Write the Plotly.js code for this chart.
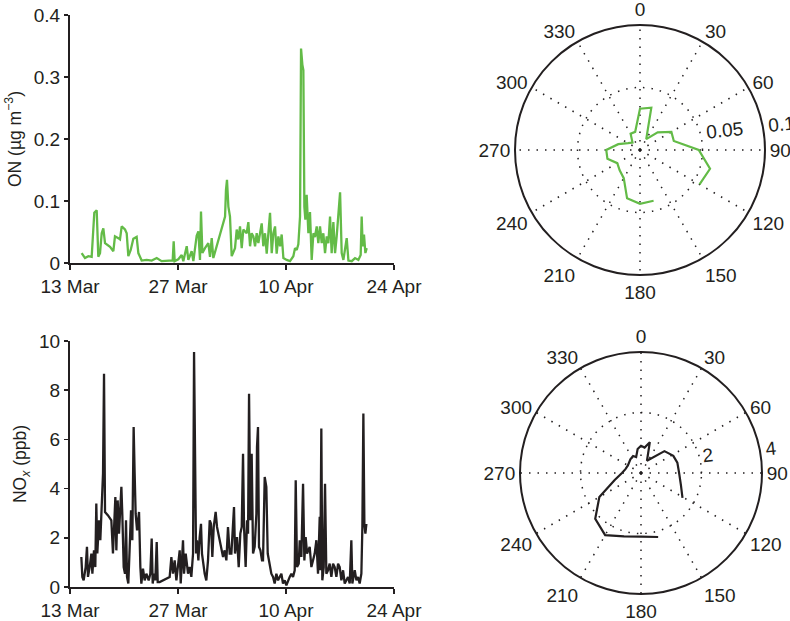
<!DOCTYPE html>
<html><head><meta charset="utf-8">
<script src="https://cdn.plot.ly/plotly-3.0.1.min.js"></script>
<style>html,body{margin:0;padding:0;background:#fff}#chart{width:790px;height:621px}</style>
</head><body><div id="chart"></div>
<script>
// ---- data (days since 13 Mar) ----
const onDay = [1.51,1.94,2.38,2.81,3.15,3.46,3.67,3.89,4.11,4.32,4.54,5.19,5.62,5.83,6.27,6.48,6.70,7.13,7.35,7.56,7.87,8.21,8.64,8.86,9.29,9.94,10.59,11.24,11.88,12.75,13.31,13.44,13.57,14.04,14.48,14.69,15.13,15.34,15.77,15.99,16.42,16.64,16.85,16.98,17.16,17.50,17.93,18.15,18.37,18.58,19.01,19.45,19.88,20.10,20.22,20.35,20.53,20.74,20.96,21.39,21.61,21.82,22.04,22.26,22.47,22.90,23.12,23.34,23.55,23.77,23.99,24.20,24.42,24.63,24.85,25.06,25.28,25.50,25.71,25.93,26.15,26.36,26.58,26.79,27.01,27.23,27.44,27.66,28.09,28.52,28.95,29.17,29.39,29.60,29.82,29.95,30.12,30.25,30.38,30.51,30.68,30.90,31.11,31.33,31.55,31.76,31.98,32.19,32.41,32.63,32.84,33.06,33.28,33.49,33.71,33.92,34.14,34.36,34.57,34.79,35.01,35.22,35.44,35.87,36.09,36.52,36.95,37.38,37.68,37.81,37.94,38.11,38.29,38.46];
const onVal = [0.016,0.008,0.011,0.010,0.081,0.085,0.010,0.016,0.048,0.056,0.032,0.026,0.019,0.043,0.040,0.038,0.059,0.054,0.048,0.011,0.021,0.039,0.042,0.016,0.004,0.005,0.004,0.008,0.003,0.004,0.004,0.035,0.003,0.006,0.013,0.003,0.027,0.005,0.019,0.003,0.044,0.051,0.005,0.083,0.016,0.024,0.032,0.010,0.040,0.008,0.027,0.048,0.067,0.075,0.118,0.134,0.091,0.075,0.011,0.024,0.054,0.038,0.059,0.024,0.054,0.048,0.066,0.027,0.048,0.043,0.027,0.048,0.032,0.048,0.064,0.027,0.048,0.015,0.048,0.081,0.016,0.048,0.059,0.015,0.043,0.027,0.046,0.008,0.005,0.003,0.011,0.024,0.021,0.030,0.075,0.346,0.320,0.311,0.091,0.070,0.110,0.048,0.082,0.005,0.048,0.042,0.059,0.032,0.059,0.032,0.048,0.016,0.043,0.032,0.075,0.016,0.066,0.016,0.043,0.081,0.114,0.016,0.005,0.040,0.004,0.003,0.008,0.005,0.013,0.075,0.027,0.046,0.016,0.024];

const noxDay = [1.47,1.60,1.77,2.03,2.20,2.33,2.55,2.77,2.90,3.11,3.28,3.41,3.54,3.76,3.93,4.06,4.28,4.41,4.54,4.93,5.36,5.57,5.70,5.88,6.01,6.18,6.35,6.53,6.66,6.78,6.96,7.13,7.26,7.39,7.56,7.74,7.91,8.08,8.25,8.38,8.51,8.69,8.95,9.12,9.25,9.46,9.68,9.90,10.20,10.41,10.59,10.72,10.89,11.06,11.24,11.37,11.62,12.92,13.14,13.35,13.57,13.79,14.00,14.22,14.35,14.65,14.78,15.00,15.30,15.51,15.73,15.95,16.08,16.21,16.34,16.46,16.64,16.81,16.98,17.11,17.33,17.46,17.67,17.89,18.11,18.28,18.45,18.63,18.88,19.06,19.32,19.58,19.84,20.05,20.27,20.48,20.70,20.92,21.13,21.26,21.39,21.65,21.87,22.08,22.26,22.43,22.56,22.77,22.95,23.08,23.21,23.38,23.55,23.73,23.94,24.16,24.24,24.37,24.50,24.68,24.89,25.02,25.24,25.45,25.63,25.80,25.97,26.10,26.32,26.53,26.75,26.97,27.18,27.40,27.61,27.83,28.05,28.26,28.48,28.70,28.91,29.13,29.26,29.43,29.65,29.78,29.99,30.21,30.38,30.55,30.73,30.90,31.07,31.29,31.50,31.72,31.94,32.15,32.37,32.45,32.58,32.71,32.89,33.06,33.23,33.45,33.66,33.88,34.10,34.31,34.53,34.75,34.96,35.18,35.40,35.61,35.83,36.04,36.26,36.47,36.60,36.91,37.13,37.34,37.55,37.77,37.90,38.03,38.16,38.29,38.42];
const noxVal = [1.22,0.41,0.27,0.81,1.63,0.41,0.81,1.36,0.54,1.49,0.81,3.39,1.36,2.71,1.90,2.98,4.61,8.67,3.05,2.91,2.71,1.36,2.71,3.66,1.49,3.52,2.17,3.25,4.07,2.98,0.81,0.54,2.71,0.41,0.14,1.63,3.12,1.90,6.50,4.61,2.98,2.30,3.05,0.81,0.14,0.75,0.27,0.54,0.27,0.54,1.97,0.14,0.54,0.27,1.83,0.20,0.20,0.41,1.22,0.54,1.08,0.27,0.95,1.49,0.14,1.90,0.54,1.36,0.54,0.81,0.41,1.36,9.55,5.42,1.36,1.90,1.08,2.03,2.57,1.36,0.81,0.54,0.27,1.08,2.71,2.57,1.22,2.44,3.05,2.44,2.03,1.63,1.22,1.49,1.08,2.44,1.36,1.36,2.71,3.25,1.36,2.03,0.81,2.17,2.44,5.42,2.44,0.81,2.71,2.17,7.86,2.71,5.42,1.36,1.63,2.98,5.69,6.50,1.63,1.49,1.08,1.08,4.47,4.07,1.36,1.08,0.81,0.54,0.41,0.14,0.54,0.27,0.41,0.54,0.14,0.27,0.07,0.27,0.41,0.54,0.41,0.68,4.34,0.81,0.95,1.90,1.22,4.20,1.08,2.03,1.36,1.49,1.63,0.81,1.08,1.36,1.90,0.54,2.85,0.68,6.44,0.27,0.81,4.20,0.54,0.68,0.95,0.41,0.95,0.81,0.41,0.95,0.81,0.27,0.68,0.14,0.27,0.41,0.14,1.90,0.14,0.68,0.27,0.41,0.14,0.54,2.44,7.05,2.57,2.17,2.57];

const onDirTheta = [120,105,90,75,60,45,30,15,0,345,330,315,300,285,270,255,240,225,210,195,180,165];
const onDirR = [0.055,0.058,0.047,0.028,0.029,0.020,0.010,0.035,0.033,0.015,0.015,0.0085,0.011,0.018,0.027,0.027,0.021,0.023,0.026,0.040,0.043,0.042];
const noxDirTheta = [121,107,90,74,62,47,26,16,8,0,352,343,335,322,300,284,270,255,240,225,210,195,180,165];
const noxDirR = [1.60,1.38,1.26,1.25,1.21,1.06,0.45,1.06,0.85,0.90,0.80,0.55,0.62,0.57,0.50,0.53,0.63,0.90,1.59,2.14,2.37,2.17,2.10,2.19];

const dateTicks = ['2013-03-13','2013-03-27','2013-04-10','2013-04-24'];
const dateTickText = ['13 Mar','27 Mar','10 Apr','24 Apr'];
const angleTicks = [0,30,60,90,120,150,180,210,240,270,300,330];
const angleTickText = angleTicks.map(String);
const onRTicks = [0.05, 0.1], onRTickText = ['0.05','0.1'];
const noxRTicks = [2, 4], noxRTickText = ['2','4'];

// ---- helpers / styling ----
const t0 = Date.UTC(2013, 2, 13);
const toDate = d => new Date(t0 + d * 86400000).toISOString().slice(0, 19).replace('T', ' ');
// MATLAB places radial labels left-aligned at the ring: pad the front so the centred label starts there
const NB = '\u00a0';
const pad = (labels, counts) => labels.map((s, i) => NB.repeat(counts[i]) + s);

const INK = '#231f20', GREEN = '#63bb47';
const FONT = 'Liberation Sans, Arial, sans-serif';
const W = 790, H = 621;
const RANGLE = 6;

const traces = [
  {x: onDay.map(toDate), y: onVal, type: 'scatter', mode: 'lines', xaxis: 'x', yaxis: 'y',
   line: {color: GREEN, width: 2.3}, hoverinfo: 'skip'},
  {x: noxDay.map(toDate), y: noxVal, type: 'scatter', mode: 'lines', xaxis: 'x2', yaxis: 'y2',
   line: {color: INK, width: 2.3}, hoverinfo: 'skip'},
  {r: onDirR, theta: onDirTheta, type: 'scatterpolar', mode: 'lines', subplot: 'polar',
   line: {color: GREEN, width: 2.2}, hoverinfo: 'skip'},
  {r: noxDirR, theta: noxDirTheta, type: 'scatterpolar', mode: 'lines', subplot: 'polar2',
   line: {color: INK, width: 2.2}, hoverinfo: 'skip'}
];

const xBase = {
  type: 'date', range: ['2013-03-13', '2013-04-24'], tickmode: 'array',
  tickvals: dateTicks, ticktext: dateTickText, showline: true, linecolor: INK, linewidth: 2,
  ticks: 'outside', ticklen: 5, tickwidth: 1.5, tickcolor: INK, showgrid: false, zeroline: false,
  tickfont: {family: FONT, size: 19, color: INK}
};
const yBase = {
  showline: true, linecolor: INK, linewidth: 2, ticks: 'outside', ticklen: 4, tickwidth: 1.5,
  tickcolor: INK, showgrid: false, zeroline: false, tickfont: {family: FONT, size: 19, color: INK}
};

const polarBase = (rRange, rTicks, rText) => ({
  bgcolor: '#fff',
  angularaxis: {
    rotation: 90, direction: 'clockwise', tickmode: 'array', tickvals: angleTicks, ticktext: angleTickText,
    ticks: '', showline: true, linecolor: INK, linewidth: 2, showgrid: true, gridcolor: INK,
    griddash: '1.5px,7px', gridwidth: 1.5, tickfont: {family: FONT, size: 19, color: INK}
  },
  radialaxis: {
    range: rRange, tickmode: 'array', tickvals: rTicks, ticktext: rText, showline: false, ticks: '',
    angle: RANGLE, side: 'counterclockwise', tickangle: 0, showgrid: true, gridcolor: INK,
    griddash: '1.5px,7px', gridwidth: 1.5, tickfont: {family: FONT, size: 19, color: INK}
  }
});

const layout = {
  width: W, height: H, margin: {l: 0, r: 0, t: 0, b: 0}, showlegend: false,
  paper_bgcolor: '#fff', plot_bgcolor: '#fff', font: {family: FONT, color: INK},
  xaxis: Object.assign({}, xBase, {domain: [70 / W, 394 / W], anchor: 'y'}),
  yaxis: Object.assign({}, yBase, {domain: [1 - 263 / H, 1 - 15 / H], anchor: 'x', range: [0, 0.4],
    tickvals: [0, 0.1, 0.2, 0.3, 0.4], ticktext: ['0', '0.1', '0.2', '0.3', '0.4'],
    title: {text: 'ON (µg m<sup>−3</sup>)', font: {family: FONT, size: 17.5, color: INK}, standoff: 8}}),
  xaxis2: Object.assign({}, xBase, {domain: [70 / W, 394 / W], anchor: 'y2'}),
  yaxis2: Object.assign({}, yBase, {domain: [1 - 587 / H, 1 - 341 / H], anchor: 'x2', range: [0, 10],
    tickvals: [0, 2, 4, 6, 8, 10],
    title: {text: 'NO<sub><i>x</i></sub> (ppb)', font: {family: FONT, size: 17.5, color: INK}, standoff: 8}}),
  polar: Object.assign(polarBase([0, 0.1], onRTicks, pad(onRTickText, [9, 7])),
    {domain: {x: [515 / W, 765 / W], y: [1 - 275 / H, 1 - 25 / H]}}),
  polar2: Object.assign(polarBase([0, 4], noxRTicks, pad(noxRTickText, [3, 4])),
    {domain: {x: [520 / W, 762 / W], y: [1 - 594 / H, 1 - 352 / H]}})
};

Plotly.newPlot('chart', traces, layout, {staticPlot: true, displayModeBar: false});
</script></body></html>
